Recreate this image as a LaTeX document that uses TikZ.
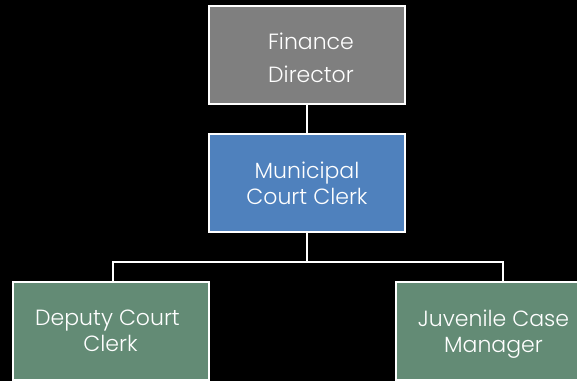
\documentclass[tikz,border=0pt]{standalone}
\usepackage{fontspec}
\setmainfont{Poppins}[UprightFont=* Light]
\definecolor{dirgray}{RGB}{127,127,127}
\definecolor{clerkblue}{RGB}{79,129,189}
\definecolor{staffgreen}{RGB}{99,139,117}
\tikzset{
  post/.style={draw=white, line width=2pt, minimum width=196pt, minimum height=98pt,
    inner sep=0pt, align=center, text=white, font=\fontsize{22}{26}\selectfont},
  link/.style={draw=white, line width=1.5pt}
}
\begin{document}
\begin{tikzpicture}[x=1pt,y=-1pt]
    \fill [black] (0,0) rectangle (577,381);
    \useasboundingbox (0,0) rectangle (577,381);
    \node [post, fill=dirgray] (fin) at (307,54.5) {\rule{0pt}{23.5pt}\hspace*{8pt}Finance\\[7pt]\hspace*{8pt}Director};
    \node [post, fill=clerkblue] (mcc) at (307,183) {Municipal\\Court Clerk};
    \node [post, fill=staffgreen] (dep) at (110.5,330.5) {\hspace*{-6pt}Deputy Court\\Clerk};
    \node [post, fill=staffgreen] (juv) at (493.5,330.5) {\rule{0pt}{24.5pt}Juvenile Case\\Manager};
    \coordinate (bar) at (307,262);
    \draw [link] (fin) -- (mcc);
    \draw [link] (mcc) -- (bar);
    \draw [link] ([xshift=2.5pt]dep.north) |- (bar) -| ([xshift=9.5pt]juv.north);
\end{tikzpicture}
\end{document}
